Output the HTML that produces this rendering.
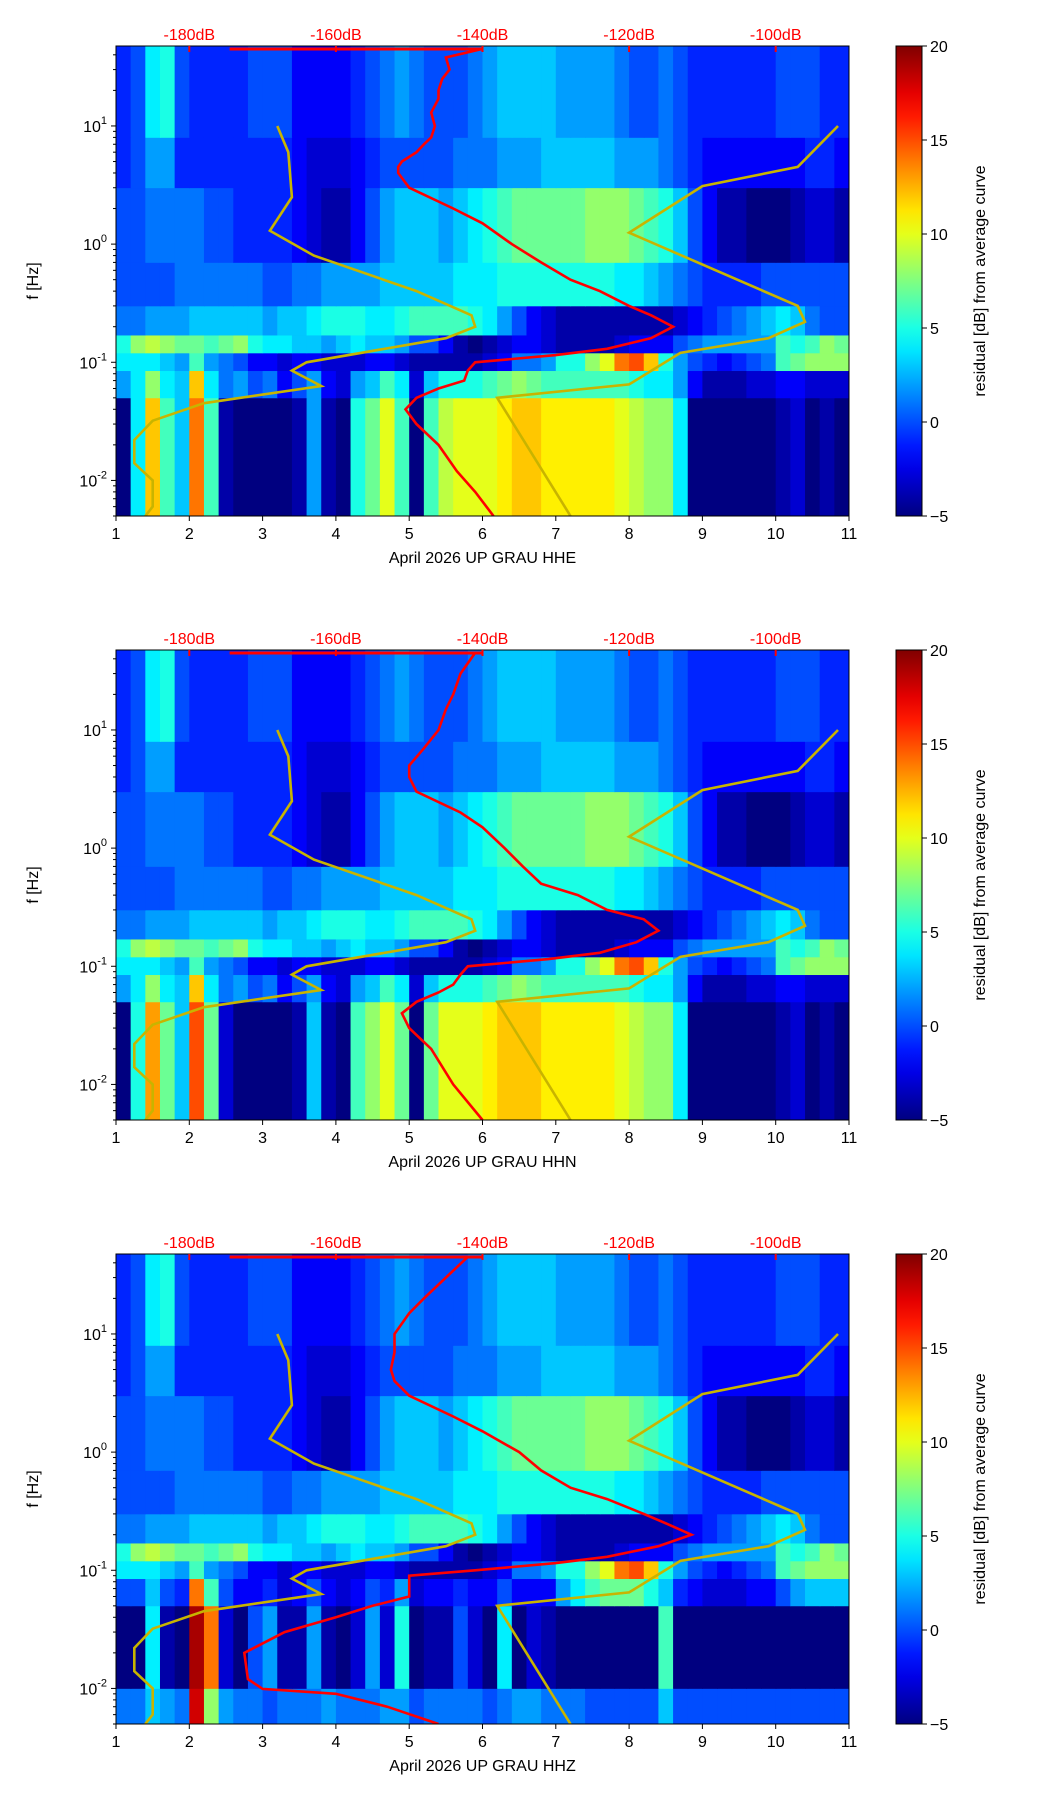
<!DOCTYPE html>
<html><head><meta charset="utf-8"><title>Spectrogram residuals</title>
<style>
html,body{margin:0;padding:0;background:#fff;}
svg{display:block;font-family:"Liberation Sans","DejaVu Sans",sans-serif;}
</style></head>
<body>
<svg id="fig" width="1052" height="1806" viewBox="0 0 1052 1806" xmlns="http://www.w3.org/2000/svg"></svg>
<script>
// ---------- data ----------
const dayTicks = [1,2,3,4,5,6,7,8,9,10,11];
const dbTicks = [-180,-160,-140,-120,-100];
const cbTicks = [-5,0,5,10,15,20];
const freqDecades = [0.01,0.1,1,10];
const channels = ["HHE","HHN","HHZ"];
const colDays = [1.0,1.2,1.4,1.6,1.8,2.0,2.2,2.4,2.6,2.8,3.0,3.2,3.4,3.6,3.8,4.0,4.2,4.4,4.6,4.8,5.0,5.2,5.4,5.6,5.8,6.0,6.2,6.4,6.6,6.8,7.0,7.2,7.4,7.6,7.8,8.0,8.2,8.4,8.6,8.8,9.0,9.2,9.4,9.6,9.8,10.0,10.2,10.4,10.6,10.8];
const bandEdges = [0.005,0.05,0.085,0.12,0.17,0.3,0.7,3,8,47.5];
const bandEdgesZ = [0.005,0.01,0.05,0.085,0.12,0.17,0.3,0.7,3,8,47.5];

const p1B0=[-5,4,12,6,3,14,6,-4,-5,-5,-5,-5,-4,2,-4,-5,5,7,10,6,-5,6,9,10,10,10,11,12,12,11,11,11,11,11,10,9,8,8,4,-5,-5,-5,-5,-5,-5,-4,-3,-5,-4,-5];
const p1B1=[2,4,8,4,3,12,4,1,2,0,1,-2,0,2,-2,-3,2,3,6,4,-3,3,5,5,5,6,7,8,7,6,6,6,6,6,6,5,4,4,2,-2,-4,-4,-4,-3,-3,-2,-2,-3,-3,-3];
const p1B2=[4,4,4,3,2,6,2,1,0,-2,-2,-3,-2,-2,-3,-3,-3,-2,-2,-3,-4,-4,-4,-4,-4,-3,-2,1,1,2,5,5,8,10,14,15,12,5,2,0,-1,-2,-1,0,1,6,7,8,8,8];
const p1B3=[5,8,9,8,7,7,6,7,8,5,4,4,3,3,2,3,4,3,3,2,0,0,-2,-4,-5,-4,-3,-2,-2,-3,-4,-4,-4,-4,-3,-2,-2,-2,0,1,2,2,2,2,2,6,5,6,8,7];
const p1B4=[1,1,2,2,2,3,3,3,3,3,2,3,3,4,5,5,5,4,4,5,6,6,6,6,5,4,2,0,-2,-3,-4,-4,-4,-4,-4,-4,-4,-4,-3,-2,-1,0,1,2,3,4,3,1,0,0];
const p1B5=[0,0,0,0,1,1,1,1,1,1,0,0,1,1,2,2,2,2,3,3,3,3,3,4,4,4,5,5,5,5,5,5,5,5,4,4,3,2,1,0,-1,-1,-1,-1,0,0,0,0,0,0];
const p1B6=[0,0,1,1,1,1,0,0,-1,-1,-1,-1,-2,-3,-4,-4,-2,0,2,3,3,3,2,3,4,5,6,7,7,7,7,7,8,8,8,7,6,5,3,0,-2,-4,-4,-5,-5,-5,-4,-3,-3,-4];
const p1B7=[-1,0,2,2,-1,-1,-1,-1,-1,-1,-1,-1,-2,-3,-3,-3,-2,-1,0,0,0,0,0,1,1,1,2,2,2,3,3,3,3,3,2,2,2,1,0,-1,-2,-2,-2,-2,-2,-2,-2,-1,-1,-2];
const p1B8=[-1,0,4,5,0,-1,-1,-1,-1,0,0,0,-2,-2,-2,-2,-1,0,1,2,1,0,0,0,1,2,3,3,3,3,2,2,2,2,1,0,0,1,0,-1,-1,-1,-1,-1,-1,0,0,0,-1,-1];

const p2B0=[-5,5,13,7,3,15,7,-3,-5,-5,-5,-5,-4,3,-4,-5,6,8,10,7,-5,7,10,10,10,11,12,12,12,11,11,11,11,11,10,9,8,8,4,-5,-5,-5,-5,-5,-5,-4,-3,-5,-4,-5];
const p2B1=p1B1, p2B2=p1B2, p2B3=p1B3, p2B4=p1B4, p2B5=p1B5, p2B6=p1B6, p2B7=p1B7, p2B8=p1B8;

const p3B00=[1,1,3,2,1,18,8,2,1,1,0,1,1,1,2,1,1,1,2,2,0,1,1,1,1,0,1,2,2,1,1,1,0,0,0,0,0,3,0,0,0,0,0,0,0,0,0,0,0,0];
const p3B0=[-5,-5,4,-4,-5,19,14,-3,-5,0,2,-4,-4,2,-4,-5,-3,2,-3,5,-5,-4,-4,0,-3,-5,4,-5,-3,-4,-5,-5,-5,-5,-5,-5,-5,6,-5,-5,-5,-5,-5,-5,-5,-5,-5,-5,-5,-5];
const p3B1=[0,0,3,0,-1,14,6,0,-2,-2,-1,-3,-2,0,-2,-3,-2,0,-1,2,-3,-2,-2,-1,-2,-2,0,-2,-2,-2,2,4,6,7,7,7,5,3,-1,-2,-3,-3,-3,-2,-2,0,2,3,3,3];
const p3B2=p1B2, p3B3=p1B3, p3B4=p1B4, p3B5=p1B5, p3B6=p1B6, p3B7=p1B7, p3B8=p1B8;

// red PSD curves: frequency [Hz] and level [dB]
const redF1=[0.005,0.008,0.012,0.02,0.03,0.04,0.05,0.06,0.07,0.085,0.1,0.115,0.13,0.16,0.2,0.25,0.3,0.4,0.5,0.7,1,1.5,2,3,4,4.5,5,6,7,8,10,13,17,20,25,30,38,45];
const redD1=[-138.5,-141,-143.5,-146,-149,-150.5,-149,-146,-142.5,-142,-141,-130,-123,-117,-114,-117,-120,-124,-128,-132,-136,-140,-144,-150,-151.5,-151.5,-151,-149,-148,-147,-146.5,-147,-146,-146,-145.5,-144.5,-145,-140];
const redF2=[0.005,0.01,0.02,0.03,0.04,0.05,0.06,0.07,0.085,0.1,0.115,0.13,0.16,0.2,0.25,0.3,0.4,0.5,0.7,1,1.5,2,3,4,5,7,10,15,20,30,45];
const redD2=[-140,-144,-147,-150,-151,-149,-146,-144,-143,-142,-131,-124,-119,-116,-118,-123,-127,-132,-134.5,-137,-140,-143,-149,-150,-150,-148,-146,-145,-144,-143,-141];
const redF3=[0.005,0.007,0.009,0.0099,0.012,0.02,0.03,0.04,0.05,0.06,0.07,0.09,0.1,0.115,0.13,0.16,0.2,0.25,0.3,0.4,0.5,0.7,1,1.5,2,3,4,5,7,10,15,20,30,45];
const redD3=[-146,-153,-160,-170,-172,-172.5,-167,-160,-155,-150,-150,-150,-141,-130,-123,-116,-111.5,-115,-118,-123,-128,-132,-135,-140,-144,-150,-152,-152.5,-152,-152,-150,-148,-145,-142];
const topLineD=[-174.5,-140];
// noise model curves (yellow)
const lowF=[0.005,0.006,0.01,0.014,0.022,0.032,0.045,0.063,0.085,0.1,0.16,0.2,0.25,0.4,0.8,1.3,2.5,6,10];
const lowD=[-186,-185,-185,-187.5,-187.5,-185,-178,-162,-166,-164,-145,-141,-141.5,-149,-163,-169,-166,-166.5,-168];
const highF=[0.005,0.05,0.065,0.12,0.16,0.22,0.3,1.25,3.1,4.5,10];
const highD=[-128,-138,-120,-113,-101,-96,-97,-120,-110,-97,-91.5];

// ---------- helpers ----------
const NS="http://www.w3.org/2000/svg";
const svg=document.getElementById('fig');
function mk(tag,attrs,parent){const e=document.createElementNS(NS,tag);for(const k in attrs)e.setAttribute(k,attrs[k]);(parent||svg).appendChild(e);return e;}
function jet(v){let t=(v+5)/25;t=Math.max(0,Math.min(1,t));
 const r=Math.max(0,Math.min(1,Math.min(4*t-1.5,-4*t+4.5)));
 const g=Math.max(0,Math.min(1,Math.min(4*t-0.5,-4*t+3.5)));
 const b=Math.max(0,Math.min(1,Math.min(4*t+0.5,-4*t+2.5)));
 return `rgb(${Math.round(r*255)},${Math.round(g*255)},${Math.round(b*255)})`;}

const AX0=116, AX1=849, AH=470;
const panels=[
 {top:46, edges:bandEdges, bands:[p1B0,p1B1,p1B2,p1B3,p1B4,p1B5,p1B6,p1B7,p1B8], rf:redF1, rd:redD1},
 {top:650, edges:bandEdges, bands:[p2B0,p2B1,p2B2,p2B3,p2B4,p2B5,p2B6,p2B7,p2B8], rf:redF2, rd:redD2},
 {top:1254, edges:bandEdgesZ, bands:[p3B00,p3B0,p3B1,p3B2,p3B3,p3B4,p3B5,p3B6,p3B7,p3B8], rf:redF3, rd:redD3}
];
const FMIN=0.005, FMAX=47.5;

const defs=mk('defs',{});
const lg=mk('linearGradient',{id:'jetg',x1:0,y1:1,x2:0,y2:0},defs);
for(let i=0;i<=20;i++){const v=-5+25*i/20;mk('stop',{offset:(i/20),'stop-color':jet(v)},lg);}

panels.forEach((P,pi)=>{
 const top=P.top, bot=top+AH;
 const xDay=d=>AX0+(d-1)/10*(AX1-AX0);
 const xDb=db=>xDay(2+(db+180)/10);
 const yF=f=>bot-(Math.log10(f)-Math.log10(FMIN))/(Math.log10(FMAX)-Math.log10(FMIN))*AH;
 const g=mk('g',{});
 
 
 const cp=mk('clipPath',{id:'cp'+pi},defs);
 mk('rect',{x:AX0,y:top,width:AX1-AX0,height:AH},cp);
 const hm=mk('g',{'clip-path':`url(#cp${pi})`},g);
 
 
 mk('rect',{x:AX0,y:top,width:AX1-AX0,height:AH,fill:jet(-5)},hm);
 P.bands.forEach((arr,bi)=>{
  const y0=yF(P.edges[bi+1]), y1=yF(P.edges[bi]);
  arr.forEach((v,ci)=>{
   const x0=xDay(colDays[ci]), x1=xDay(colDays[ci]+0.2);
   const r=mk('rect',{x:x0.toFixed(2),y:y0.toFixed(2),width:(x1-x0+0.6).toFixed(2),height:(y1-y0+0.4).toFixed(2),fill:jet(v)},hm);
   
   
  });
 });
 [[lowF,lowD,'low-noise-model'],[highF,highD,'high-noise-model']].forEach(([F,D,nm])=>{
  const pts=F.map((f,i)=>xDb(D[i]).toFixed(1)+','+yF(f).toFixed(1)).join(' ');
  const pl=mk('polyline',{points:pts,fill:'none',stroke:'#c8b400','stroke-width':2.6},hm);
  
  
 });
 const rp=P.rf.map((f,i)=>xDb(P.rd[i]).toFixed(1)+','+yF(f).toFixed(1)).join(' ');
 const rl=mk('polyline',{points:rp,fill:'none',stroke:'#ff0000','stroke-width':2.6},hm);
 
 
 const tl=mk('line',{x1:xDb(topLineD[0]),x2:xDb(topLineD[1]),y1:top+3,y2:top+3,stroke:'#ff0000','stroke-width':3},hm);
 
 
 const fr=mk('rect',{x:AX0,y:top,width:AX1-AX0,height:AH,fill:'none',stroke:'#000','stroke-width':1},g);
 
 
 dayTicks.forEach(d=>{const x=xDay(d);mk('line',{x1:x,x2:x,y1:bot,y2:bot+5,stroke:'#000'},g);
  const t=mk('text',{x:x,y:bot+23,'text-anchor':'middle','font-size':16},g);t.textContent=d;
  });
 const xl=mk('text',{x:(AX0+AX1)/2,y:bot+47,'text-anchor':'middle','font-size':16},g);
 xl.textContent='April 2026 UP GRAU  '+channels[pi];
 
 dbTicks.forEach(db=>{const x=xDb(db);mk('line',{x1:x,x2:x,y1:top,y2:top+6,stroke:'#ff0000','stroke-width':2},g);
  const t=mk('text',{x:x,y:top-6,'text-anchor':'middle','font-size':16,fill:'#ff0000'},g);t.textContent=db+'dB';
  });
 for(let e=-3;e<=1;e++){for(let m=1;m<10;m++){const f=m*Math.pow(10,e);if(f<FMIN||f>FMAX)continue;const y=yF(f);
  mk('line',{x1:AX0-(m===1?5:3),x2:AX0,y1:y,y2:y,stroke:'#000'},g);}}
 freqDecades.forEach(f=>{const y=yF(f);const e=Math.round(Math.log10(f));
  const t=mk('text',{x:AX0-9,y:y+6,'text-anchor':'end','font-size':16},g);
  
  t.textContent='10';const s=mk('tspan',{'font-size':11,dy:-8},t);s.textContent=String(e);});
 const yl=mk('text',{x:0,y:0,'text-anchor':'middle','font-size':16,transform:`translate(38,${top+AH/2}) rotate(-90)`},g);
 yl.textContent='f [Hz]';
 const cb=mk('rect',{x:896,y:top,width:26,height:AH,fill:'url(#jetg)',stroke:'#000','stroke-width':1},g);
 
 cbTicks.forEach(v=>{const y=bot-(v+5)/25*AH;mk('line',{x1:922,x2:927,y1:y,y2:y,stroke:'#000'},g);
  const t=mk('text',{x:930,y:y+6,'font-size':16},g);t.textContent=(v<0?'\u2212'+(-v):v);
  });
 const cl=mk('text',{x:0,y:0,'text-anchor':'middle','font-size':16,transform:`translate(985,${top+AH/2}) rotate(-90)`},g);
 cl.textContent='residual [dB] from average curve';
});
</script>
</body></html>
